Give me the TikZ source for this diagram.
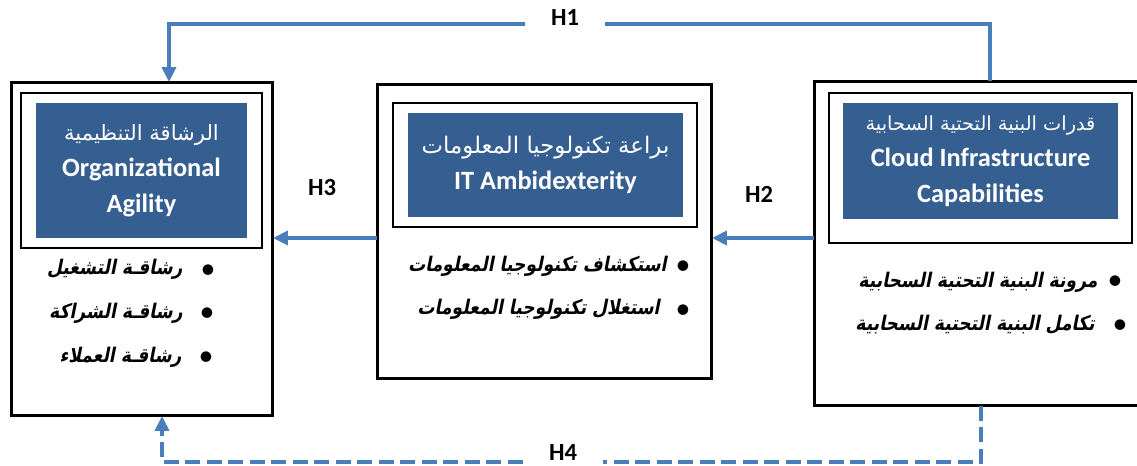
\documentclass[tikz,border=0pt]{standalone}
\usepackage{fontspec}
\setmainfont{Carlito}
\newfontfamily\arabicfont[Script=Arabic]{DejaVu Sans}
\newfontfamily\arabicitem[Script=Arabic,FakeSlant=0.2,FakeStretch=0.85]{DejaVu Sans}
\TeXXeTstate=1
\usetikzlibrary{arrows.meta}
\definecolor{titleblue}{HTML}{365F91}
\definecolor{linkblue}{HTML}{4A7EBB}

\begin{document}
\begin{tikzpicture}[x=0.02cm,y=-0.02cm,
  outerbox/.style={draw=black,line width=1.7pt,inner sep=0pt,outer sep=0pt},
  framebox/.style={draw=black,line width=0.85pt,inner sep=0pt},
  titlebox/.style={fill=titleblue,text=white,align=center,inner sep=0pt,font=\fontsize{15}{20.5}\selectfont\bfseries},
  link/.style={linkblue,line width=2.3pt,-{Triangle[length=0.3cm,width=0.28cm]}},
  hlabel/.style={font=\fontsize{14}{16}\selectfont\bfseries,inner sep=0pt,minimum width=1.6cm},
  item/.style={anchor=base east,inner sep=0pt,font=\fontsize{11.5}{14}\selectfont\arabicitem\bfseries},
  dot/.style={anchor=base,inner sep=0pt,font=\fontsize{17}{18}\selectfont}]

\useasboundingbox (0,0) rectangle (1137,466);
\clip (0,0) rectangle (1137,466);

% left box
\node[outerbox,minimum width=5.24cm,minimum height=6.68cm] (agility) at (142,249) {};
\node[framebox,minimum width=4.82cm,minimum height=3.10cm] (agilityframe) at (141.5,170.5) {};
\node[titlebox,minimum width=4.22cm,minimum height=2.70cm] (agilitytitle) at (141.5,170.5) {{\fontsize{12}{20.5}\selectfont\arabicfont\mdseries\beginR الرشاقة التنظيمية\endR}\\Organizational\\Agility};

% middle box
\node[outerbox,minimum width=6.70cm,minimum height=5.90cm] (ambidex) at (544.5,231.5) {};
\node[framebox,minimum width=6.08cm,minimum height=2.48cm] (ambidexframe) at (545,165) {};
\node[titlebox,minimum width=5.50cm,minimum height=2.08cm] (ambidextitle) at (545.5,165) {{\fontsize{13}{20.5}\selectfont\arabicfont\mdseries\beginR براعة تكنولوجيا المعلومات\endR}\\IT Ambidexterity};

% right box
\node[outerbox,minimum width=6.68cm,minimum height=6.50cm] (cloud) at (981,243.5) {};
\node[framebox,minimum width=6.06cm,minimum height=3.00cm] (cloudframe) at (980.5,168) {};
\node[titlebox,minimum width=5.50cm,minimum height=2.32cm] (cloudtitle) at (980.5,161) {{\fontsize{11}{20.5}\selectfont\arabicfont\mdseries\beginR قدرات البنية التحتية السحابية\endR}\\Cloud Infrastructure\\Capabilities};

% bullet items
\node[item] (agility1) at (183,275) {\beginR رشاقـة التشغيل\endR};
\node[item] (agility2) at (183,318) {\beginR رشاقـة الشراكة\endR};
\node[item] (agility3) at (182,362) {\beginR رشاقـة العملاء\endR};
\node[dot] (agilitydot1) at (208,278) {•};
\node[dot] (agilitydot2) at (207,321) {•};
\node[dot] (agilitydot3) at (206,365) {•};

\node[item] (ambidex1) at (667,272) {\beginR استكشاف تكنولوجيا المعلومات\endR};
\node[item] (ambidex2) at (660,315) {\beginR استغلال تكنولوجيا المعلومات\endR};
\node[dot] (ambidexdot1) at (683,275) {•};
\node[dot] (ambidexdot2) at (683,318) {•};

\node[item] (cloud1) at (1098,287) {\beginR مرونة البنية التحتية السحابية\endR};
\node[item] (cloud2) at (1095,330) {\beginR تكامل البنية التحتية السحابية\endR};
\node[dot] (clouddot1) at (1115,290) {•};
\node[dot] (clouddot2) at (1120,333) {•};

% hypotheses
\coordinate (top) at (0,24);
\coordinate (bot) at (0,462);
\coordinate (lvl) at (0,238);
\coordinate (h1r) at (990,0);
\coordinate (h1l) at (169,0);
\coordinate (h4l) at (162,0);

\node[hlabel] (H1) at (565,18) {H1};
\node[hlabel] (H2) at (759,194) {H2};
\node[hlabel] (H3) at (322,188) {H3};
\node[hlabel] (H4) at (563,453) {H4};

\draw[link,-] (h1r |- cloud.north) -- (h1r |- top) -- (top -| H1.east);
\draw[link] (top -| H1.west) -- (h1l |- top) -- (h1l |- agility.north);
\draw[link] (cloud.west |- lvl) -- (ambidex.east |- lvl);
\draw[link] (ambidex.west |- lvl) -- (agility.east |- lvl);
\draw[link,-,dash pattern=on 0.3cm off 0.13cm] (cloud.south) -- (cloud.south |- bot) -- (bot -| H4.east);
\draw[link,dash pattern=on 0.3cm off 0.13cm] (bot -| H4.west) -- (h4l |- bot) -- (h4l |- agility.south);

\end{tikzpicture}
\end{document}
